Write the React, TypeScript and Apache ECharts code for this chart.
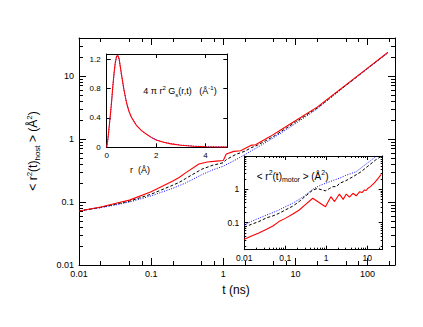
import React, { useEffect, useRef } from 'react';
import * as echarts from 'echarts';

// ---------- main plot: <r^2(t)>_host ----------
const hostRedT = [0.01, 0.02, 0.036, 0.05, 0.1, 0.2, 0.244, 0.3, 0.46, 0.6, 0.8, 1.0, 1.1, 1.4, 1.74, 2.4, 2.8, 3.5, 4.5, 6, 10, 20, 50, 100, 190];
const hostRedV = [0.072, 0.083, 0.098, 0.107, 0.145, 0.215, 0.245, 0.29, 0.4, 0.43, 0.445, 0.455, 0.575, 0.635, 0.65, 0.79, 0.81, 0.94, 1.1, 1.35, 1.95, 3.2, 7.2, 13.3, 23.5];
const hostBlackT = [0.01, 0.02, 0.036, 0.05, 0.1, 0.2, 0.244, 0.3, 0.5, 0.7, 1.0, 1.1, 1.5, 2.0, 2.4, 3.0, 3.5, 5, 10, 20, 50, 100, 190];
const hostBlackV = [0.072, 0.082, 0.095, 0.103, 0.133, 0.185, 0.204, 0.235, 0.33, 0.38, 0.42, 0.47, 0.57, 0.64, 0.72, 0.8, 0.88, 1.1, 1.85, 3.1, 7.1, 13.2, 23.4];
const hostBlueT = [0.01, 0.02, 0.036, 0.05, 0.1, 0.2, 0.3, 0.5, 0.7, 1.0, 1.5, 2.4, 3.5, 5, 10, 20, 50, 100, 190];
const hostBlueV = [0.072, 0.081, 0.092, 0.1, 0.125, 0.165, 0.2, 0.27, 0.32, 0.37, 0.47, 0.64, 0.82, 1.05, 1.75, 3.0, 7.0, 13.0, 23.2];

// ---------- inset 1: 4 pi r^2 Gs(r,t) ----------
const rValues = [0, 0.05, 0.1, 0.15, 0.2, 0.25, 0.3, 0.35, 0.4, 0.45, 0.5, 0.6, 0.7, 0.8, 0.9, 1.0, 1.2, 1.4, 1.6, 1.8, 2.0, 2.3, 2.6, 3.0, 3.5, 4.0, 4.5, 4.85];
const gsRed = [0, 0.12, 0.28, 0.45, 0.63, 0.84, 1.02, 1.16, 1.24, 1.25, 1.21, 0.99, 0.78, 0.61, 0.49, 0.41, 0.3, 0.23, 0.18, 0.135, 0.1, 0.068, 0.047, 0.028, 0.014, 0.007, 0.004, 0.003];
const gsBlue = [0, 0.11, 0.27, 0.44, 0.62, 0.83, 1.01, 1.15, 1.23, 1.245, 1.2, 0.98, 0.78, 0.61, 0.49, 0.41, 0.3, 0.23, 0.18, 0.136, 0.102, 0.07, 0.05, 0.031, 0.017, 0.01, 0.006, 0.005];

// ---------- inset 2: <r^2(t)>_motor ----------
const motorRedT = [0.01, 0.015, 0.0226, 0.035, 0.05, 0.07, 0.1, 0.15, 0.22, 0.3, 0.47, 0.96, 1.3, 1.6, 2.1, 2.6, 3.1, 3.7, 4.5, 5.4, 6.6, 7.5, 8.5, 9.5, 10.5, 12, 15, 18, 22];
const motorRedV = [0.032, 0.04, 0.049, 0.064, 0.08, 0.108, 0.135, 0.18, 0.24, 0.335, 0.54, 0.3, 0.6, 0.43, 0.72, 0.5, 0.72, 0.58, 0.76, 0.64, 0.85, 0.8, 0.95, 0.92, 1.08, 1.2, 1.55, 2.0, 2.8];
const motorBlackT = [0.01, 0.015, 0.0226, 0.035, 0.05, 0.07, 0.1, 0.15, 0.22, 0.3, 0.47, 0.6, 0.75, 0.96, 1.2, 1.45, 1.8, 2.1, 3, 4.5, 7, 10, 16, 23];
const motorBlackV = [0.073, 0.09, 0.108, 0.14, 0.16, 0.19, 0.24, 0.31, 0.43, 0.6, 0.95, 1.05, 0.98, 0.9, 1.05, 1.2, 1.2, 1.5, 1.8, 2.37, 3.3, 4.7, 7.5, 10];
const motorBlueT = [0.01, 0.015, 0.0226, 0.035, 0.05, 0.07, 0.1, 0.15, 0.22, 0.3, 0.47, 0.7, 0.96, 1.5, 2.1, 3, 5.4, 10, 17.2];
const motorBlueV = [0.086, 0.11, 0.136, 0.17, 0.2, 0.24, 0.3, 0.38, 0.5, 0.65, 1.0, 1.3, 1.51, 1.85, 2.14, 2.6, 3.36, 6.0, 10];

// ---------- ticks ----------
const mainXLabels = [0.01, 0.1, 1, 10, 100];
const mainXMinor = [0.02, 0.05, 0.075, 0.2, 0.5, 0.75, 2, 5, 7.5, 20, 50, 75, 200];
const mainYLabels = [0.01, 0.1, 1, 10];
const mainYMinor = [0.02, 0.03, 0.04, 0.05, 0.06, 0.07, 0.08, 0.09, 0.2, 0.3, 0.4, 0.5, 0.6, 0.7, 0.8, 0.9, 2, 3, 4, 5, 6, 7, 8, 9, 20, 30];
const in1XLabels = [0, 2, 4];
const in1YLabels = [0, 0.4, 0.8, 1.2];
const in2XLabels = [0.01, 0.1, 1, 10];
const in2XMinor = [0.02, 0.03, 0.04, 0.05, 0.06, 0.07, 0.08, 0.09, 0.2, 0.3, 0.4, 0.5, 0.6, 0.7, 0.8, 0.9, 2, 3, 4, 5, 6, 7, 8, 9, 20];
const in2YLabels = [0.1, 1];
const in2YMajor = [0.1, 1, 10];
const in2YMinor = [0.02, 0.03, 0.04, 0.05, 0.06, 0.07, 0.08, 0.09, 0.2, 0.3, 0.4, 0.5, 0.6, 0.7, 0.8, 0.9, 2, 3, 4, 5, 6, 7, 8, 9];

const FONT = '"Liberation Sans", Arial, Helvetica, sans-serif';

const pairs = (xs: number[], ys: number[]) => xs.map((x, i) => [x, ys[i]]);

type AxisCfg = {
  grid: number;
  type: 'log' | 'value';
  min: number;
  max: number;
  major: number[];
  minor: number[];
  labels: number[];
  fontSize: number;
  margin: number;
  majorLen: number;
  minorLen: number;
};

function makeAxes(dim: 'x' | 'y', c: AxisCfg) {
  const positions = dim === 'x' ? ['bottom', 'top'] : ['left', 'right'];
  const out: any[] = [];
  positions.forEach((pos, pi) => {
    [true, false].forEach((isMajor) => {
      out.push({
        type: c.type,
        gridIndex: c.grid,
        position: pos,
        min: c.min,
        max: c.max,
        logBase: 10,
        axisLine: { show: isMajor, onZero: false, lineStyle: { color: '#000', width: 1 } },
        axisTick: {
          show: true,
          inside: true,
          length: isMajor ? c.majorLen : c.minorLen,
          customValues: isMajor ? c.major : c.minor,
          lineStyle: { color: '#000', width: 1 },
        },
        axisLabel: {
          show: isMajor && pi === 0,
          customValues: c.labels,
          formatter: (v: number) => String(v),
          fontSize: c.fontSize,
          fontFamily: FONT,
          color: '#000',
          margin: c.margin,
        },
        minorTick: { show: false },
        splitLine: { show: false },
        splitArea: { show: false },
      });
    });
  });
  return out;
}

const richStyles = (base: number, small: number, lh: number) => ({
  sup: { fontSize: small, fontFamily: FONT, fill: '#000', lineHeight: small, verticalAlign: 'top' },
  sub: { fontSize: small, fontFamily: FONT, fill: '#000', lineHeight: small, verticalAlign: 'bottom' },
});

function buildOption() {
  const xAxis = [
    ...makeAxes('x', { grid: 0, type: 'log', min: 0.01, max: 240, major: mainXLabels, minor: mainXMinor, labels: mainXLabels, fontSize: 9, margin: 4, majorLen: 7, minorLen: 4 }),
    ...makeAxes('x', { grid: 1, type: 'value', min: 0, max: 4.88, major: in1XLabels, minor: [], labels: in1XLabels, fontSize: 8, margin: 4, majorLen: 4, minorLen: 2 }),
    ...makeAxes('x', { grid: 2, type: 'log', min: 0.01, max: 24, major: in2XLabels, minor: in2XMinor, labels: in2XLabels, fontSize: 8.5, margin: 4, majorLen: 4, minorLen: 2 }),
  ];
  const yAxis = [
    ...makeAxes('y', { grid: 0, type: 'log', min: 0.01, max: 40, major: mainYLabels, minor: mainYMinor, labels: mainYLabels, fontSize: 9, margin: 5, majorLen: 7, minorLen: 4 }),
    ...makeAxes('y', { grid: 1, type: 'value', min: 0, max: 1.27, major: in1YLabels, minor: [], labels: in1YLabels, fontSize: 8, margin: 6, majorLen: 4, minorLen: 2 }),
    ...makeAxes('y', { grid: 2, type: 'log', min: 0.0156, max: 9.9, major: in2YMajor, minor: in2YMinor, labels: in2YLabels, fontSize: 8.5, margin: 5, majorLen: 4, minorLen: 2 }),
  ];

  const line = (name: string, data: number[][], grid: number, color: string, type: any, width = 1) => ({
    name,
    type: 'line',
    xAxisIndex: grid * 4,
    yAxisIndex: grid * 4,
    data,
    showSymbol: false,
    symbol: 'none',
    smooth: false,
    lineStyle: { color, width, type },
    emphasis: { disabled: true },
  });

  return {
    animation: false,
    backgroundColor: '#fff',
    grid: [
      { left: 79, top: 38, width: 316, height: 227, show: false, containLabel: false },
      { left: 106.7, top: 54, width: 120.6, height: 93.3, show: true, backgroundColor: '#fff', borderWidth: 0, containLabel: false },
      { left: 244.3, top: 156, width: 138.4, height: 93.7, show: true, backgroundColor: '#fff', borderWidth: 0, containLabel: false },
    ],
    xAxis,
    yAxis,
    series: [
      line('host blue', pairs(hostBlueT, hostBlueV), 0, '#0000ff', [1, 1.5]),
      line('host black', pairs(hostBlackT, hostBlackV), 0, '#000000', [3, 2]),
      line('host red', pairs(hostRedT, hostRedV), 0, '#ff0000', 'solid', 1.1),
      line('gs blue', pairs(rValues, gsBlue), 1, '#0000ff', [1, 1.5]),
      line('gs red', pairs(rValues, gsRed), 1, '#ff0000', 'solid', 1.1),
      line('motor blue', pairs(motorBlueT, motorBlueV), 2, '#0000ff', [1, 1.5]),
      line('motor black', pairs(motorBlackT, motorBlackV), 2, '#000000', [3, 2]),
      line('motor red', pairs(motorRedT, motorRedV), 2, '#ff0000', 'solid', 1.1),
    ],
    graphic: [
      {
        type: 'text',
        x: 33,
        y: 151,
        rotation: Math.PI / 2,
        style: {
          text: '< r{sup|2}(t){sub|host} > (Å{sup|2})',
          fontSize: 12,
          fontFamily: FONT,
          fill: '#000',
          lineHeight: 16,
          align: 'center',
          verticalAlign: 'middle',
          rich: richStyles(12, 8, 16),
        },
      },
      {
        type: 'text',
        x: 236,
        y: 290,
        style: { text: 't (ns)', fontSize: 12, fontFamily: FONT, fill: '#000', align: 'center', verticalAlign: 'middle' },
      },
      {
        type: 'text',
        x: 143.3,
        y: 91,
        style: {
          text: '4 π r{sup|2} G{sub|s}(r,t)   (Å{sup|-1})',
          fontSize: 9,
          fontFamily: FONT,
          fill: '#000',
          lineHeight: 13,
          align: 'left',
          verticalAlign: 'middle',
          rich: richStyles(9, 6, 13),
        },
      },
      {
        type: 'text',
        x: 140,
        y: 170,
        style: { text: 'r  (Å)', fontSize: 9, fontFamily: FONT, fill: '#000', align: 'center', verticalAlign: 'middle' },
      },
      {
        type: 'text',
        x: 256.7,
        y: 176,
        style: {
          text: '< r{sup|2}(t){sub|motor} > (Å{sup|2})',
          fontSize: 10,
          fontFamily: FONT,
          fill: '#000',
          lineHeight: 14,
          align: 'left',
          verticalAlign: 'middle',
          rich: richStyles(10, 7, 14),
        },
      },
    ],
  };
}

export default function App() {
  const ref = useRef<HTMLDivElement>(null);
  useEffect(() => {
    if (!ref.current) return;
    const chart = echarts.init(ref.current, null, { renderer: 'svg' });
    chart.setOption(buildOption() as any);
    return () => chart.dispose();
  }, []);
  return <div ref={ref} style={{ position: 'fixed', left: 0, top: 0, width: 423, height: 327 }} />;
}
